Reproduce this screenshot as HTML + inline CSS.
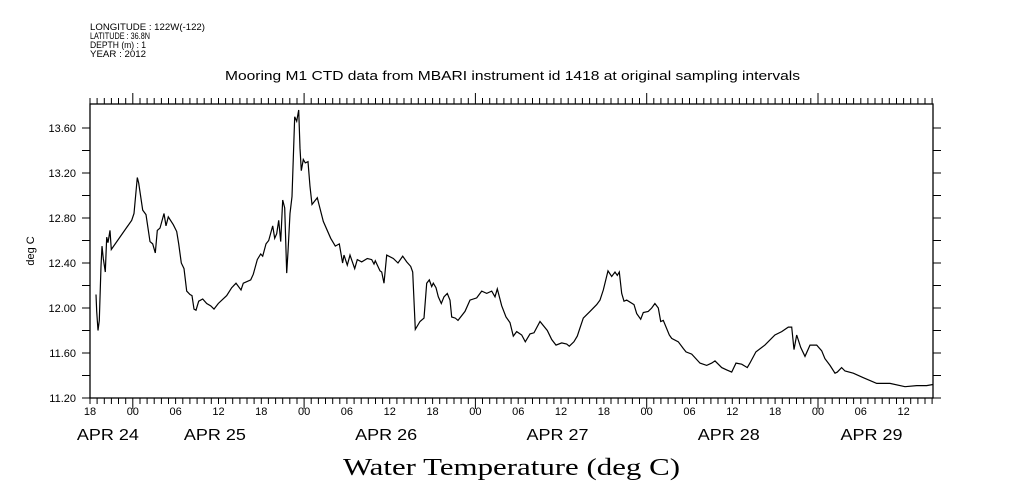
<!DOCTYPE html>
<html><head><meta charset="utf-8"><style>
body{margin:0;background:#fff;}
svg{display:block;font-family:"Liberation Sans",sans-serif;}
</style></head><body>
<svg id="chart" width="1009" height="504" viewBox="0 0 1009 504">
<g font-size="9" fill="#000">
<text x="90" y="30" textLength="115" lengthAdjust="spacingAndGlyphs">LONGITUDE : 122W(-122)</text>
<text x="90" y="39" textLength="60" lengthAdjust="spacingAndGlyphs">LATITUDE : 36.8N</text>
<text x="90" y="48" textLength="56" lengthAdjust="spacingAndGlyphs">DEPTH (m) : 1</text>
<text x="90" y="57" textLength="56" lengthAdjust="spacingAndGlyphs">YEAR : 2012</text>
</g>
<text x="225" y="80" textLength="575" lengthAdjust="spacingAndGlyphs" font-size="13">Mooring M1 CTD data from MBARI instrument id 1418 at original sampling intervals</text>
<text transform="translate(34,251) rotate(-90)" text-anchor="middle" font-size="11">deg C</text>
<text x="343" y="475" textLength="337" lengthAdjust="spacingAndGlyphs" font-size="24" font-family="Liberation Serif, serif">Water Temperature (deg C)</text>
<rect x="90" y="104" width="843" height="294" fill="none" stroke="#000" stroke-width="1.3"/>
<g id="axes"></g>
<path id="line" fill="none" stroke="#000" stroke-width="1.2"/>
</svg>
<script>
const hours=[0.84,0.94,1.12,1.30,1.40,1.54,1.68,1.86,2.14,2.34,2.52,2.80,2.98,5.84,6.17,6.63,6.82,7.38,7.85,8.41,8.78,9.15,9.43,9.81,10.37,10.65,10.97,11.67,12.15,12.43,12.79,13.17,13.55,14.01,14.29,14.57,14.85,15.23,15.79,16.35,16.91,17.37,17.98,19.15,19.85,20.46,21.16,21.48,22.52,22.88,23.44,23.92,24.20,24.66,25.04,25.60,25.88,26.16,26.44,26.72,27.00,27.28,27.56,27.74,28.02,28.30,28.68,28.96,29.24,29.43,29.61,29.89,30.17,30.54,30.82,31.10,31.85,32.04,32.69,33.72,34.37,34.93,35.40,35.59,36.05,36.43,37.09,37.45,38.07,38.85,39.47,39.79,39.97,40.63,40.87,41.19,41.57,42.50,43.16,43.81,44.37,44.94,45.22,45.58,46.24,46.80,47.18,47.54,47.88,48.10,48.48,48.80,49.22,49.60,50.06,50.44,50.68,51.18,51.56,52.54,53.24,54.18,54.88,55.58,56.28,56.75,57.07,57.69,58.29,58.85,59.31,59.79,60.49,60.99,61.65,62.21,63.05,64.07,64.69,65.29,66.09,66.79,67.16,67.81,68.28,68.65,69.12,70.06,71.00,71.46,71.92,72.58,73.10,73.56,73.88,74.16,74.50,74.82,75.20,76.22,76.60,77.16,77.53,78.22,78.70,79.16,79.63,79.96,80.33,81.17,81.50,82.43,83.13,83.51,84.31,85.47,86.41,87.11,87.58,88.51,89.21,89.91,90.52,91.31,92.10,92.47,93.31,94.57,95.97,96.92,97.84,98.32,98.64,99.02,99.58,100.18,100.88,101.82,102.52,102.98,103.69,104.39,104.71,105.32,105.79,106.95,108.35,110.23,112.09,114.19,115.83,117.23,118.12];
const temps=[12.12,11.97,11.80,11.89,12.09,12.37,12.55,12.44,12.32,12.63,12.58,12.69,12.52,12.78,12.84,13.16,13.11,12.87,12.83,12.59,12.57,12.49,12.69,12.71,12.84,12.73,12.81,12.74,12.68,12.57,12.40,12.35,12.15,12.12,12.11,11.99,11.98,12.06,12.08,12.04,12.02,11.99,12.04,12.11,12.18,12.22,12.16,12.22,12.25,12.30,12.43,12.48,12.46,12.57,12.60,12.73,12.62,12.66,12.78,12.59,12.96,12.89,12.31,12.50,12.84,12.99,13.70,13.66,13.76,13.42,13.22,13.32,13.29,13.30,13.08,12.92,12.98,12.93,12.77,12.62,12.55,12.57,12.40,12.47,12.38,12.47,12.35,12.43,12.41,12.44,12.43,12.39,12.42,12.33,12.32,12.22,12.47,12.44,12.40,12.46,12.41,12.37,12.32,11.81,11.88,11.91,12.22,12.25,12.19,12.22,12.18,12.10,12.04,12.10,12.13,12.07,11.92,11.91,11.89,11.97,12.07,12.09,12.15,12.13,12.15,12.10,12.17,12.02,11.92,11.87,11.75,11.79,11.76,11.70,11.77,11.78,11.88,11.80,11.72,11.67,11.69,11.68,11.66,11.70,11.75,11.82,11.91,11.97,12.03,12.07,12.16,12.33,12.28,12.32,12.29,12.32,12.13,12.06,12.07,12.03,11.95,11.90,11.96,11.97,12.00,12.04,12.00,11.88,11.89,11.76,11.73,11.70,11.64,11.61,11.59,11.51,11.49,11.51,11.53,11.47,11.45,11.43,11.51,11.50,11.47,11.51,11.61,11.67,11.76,11.79,11.83,11.83,11.63,11.76,11.65,11.57,11.67,11.67,11.62,11.55,11.49,11.42,11.43,11.47,11.44,11.42,11.38,11.33,11.33,11.30,11.31,11.31,11.32];
const yTickLabels=["11.20","11.60","12.00","12.40","12.80","13.20","13.60"];
const hourLabels=["18","00","06","12","18","00","06","12","18","00","06","12","18","00","06","12","18","00","06","12"];
const dateLabels=["APR 24","APR 25","APR 26","APR 27","APR 28","APR 29"];
const dateLabelHours=[2.5,17.5,41.5,65.5,89.5,109.5];

const X0=90,X1=933,HMAX=118.12,Y0=398,Y1=128,VMIN=11.2,VMAX=13.6;
const sx=h=>X0+h*(X1-X0)/HMAX;
const sy=v=>Y0-(v-VMIN)*(Y0-Y1)/(VMAX-VMIN);
const NS="http://www.w3.org/2000/svg";
const ax=document.getElementById('axes');
function mk(tag,attrs){const e=document.createElementNS(NS,tag);for(const k in attrs)e.setAttribute(k,attrs[k]);ax.appendChild(e);return e;}
let d="";
for(let h=0;h<=118;h++){
  const x=sx(h).toFixed(1);const major=(h%24===6);const L=major?11:6;
  d+=`M${x},398v${L}M${x},104v${-L}`;
}
for(let v=11.2;v<=13.61;v+=0.2){const y=sy(v).toFixed(1);d+=`M82,${y}h8M933,${y}h8`;}
const t=mk('path',{d:d,stroke:'#000','stroke-width':1,fill:'none'});


yTickLabels.forEach(s=>{
  const e=mk('text',{x:76,y:sy(parseFloat(s))+4,'text-anchor':'end','font-size':11});
  e.textContent=s;
  
  
});
hourLabels.forEach((s,i)=>{
  const e=mk('text',{x:sx(i*6),y:415,'text-anchor':'middle','font-size':11});
  e.textContent=s;
  
  
});
dateLabels.forEach((s,i)=>{
  const e=mk('text',{x:sx(dateLabelHours[i])-31,y:440,'font-size':16,textLength:62,lengthAdjust:'spacingAndGlyphs'});
  e.textContent=s;
  
  
});
document.getElementById('line').setAttribute('d',hours.map((h,i)=>(i?'L':'M')+sx(h).toFixed(1)+','+sy(temps[i]).toFixed(1)).join(''));
</script>
</body></html>
